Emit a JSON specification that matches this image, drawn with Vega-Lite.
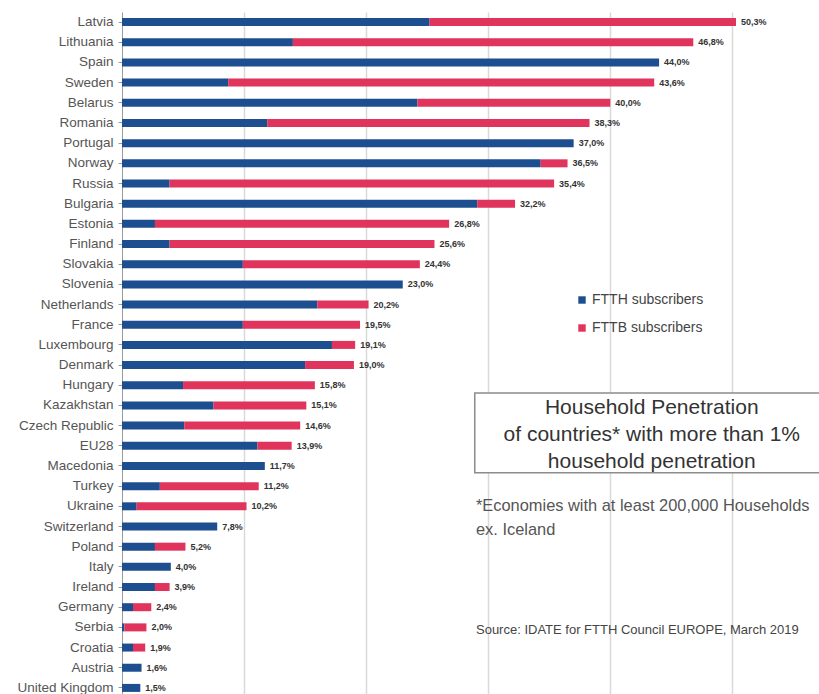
{
  "$schema": "https://vega.github.io/schema/vega-lite/v6.json",
  "width": 697,
  "height": 686,
  "autosize": {"type": "none"},
  "padding": {"left": 122, "top": 12, "right": 0, "bottom": 0},
  "background": "white",
  "config": {"view": {"stroke": null}, "font": "Liberation Sans"},
  "datasets": {
    "bars": [
      {"country": "Latvia", "type": "FTTH subscribers", "value": 25.2},
      {"country": "Latvia", "type": "FTTB subscribers", "value": 25.1},
      {"country": "Lithuania", "type": "FTTH subscribers", "value": 14.0},
      {"country": "Lithuania", "type": "FTTB subscribers", "value": 32.8},
      {"country": "Spain", "type": "FTTH subscribers", "value": 44.0},
      {"country": "Sweden", "type": "FTTH subscribers", "value": 8.7},
      {"country": "Sweden", "type": "FTTB subscribers", "value": 34.9},
      {"country": "Belarus", "type": "FTTH subscribers", "value": 24.2},
      {"country": "Belarus", "type": "FTTB subscribers", "value": 15.8},
      {"country": "Romania", "type": "FTTH subscribers", "value": 11.9},
      {"country": "Romania", "type": "FTTB subscribers", "value": 26.4},
      {"country": "Portugal", "type": "FTTH subscribers", "value": 37.0},
      {"country": "Norway", "type": "FTTH subscribers", "value": 34.3},
      {"country": "Norway", "type": "FTTB subscribers", "value": 2.2},
      {"country": "Russia", "type": "FTTH subscribers", "value": 3.9},
      {"country": "Russia", "type": "FTTB subscribers", "value": 31.5},
      {"country": "Bulgaria", "type": "FTTH subscribers", "value": 29.1},
      {"country": "Bulgaria", "type": "FTTB subscribers", "value": 3.1},
      {"country": "Estonia", "type": "FTTH subscribers", "value": 2.7},
      {"country": "Estonia", "type": "FTTB subscribers", "value": 24.1},
      {"country": "Finland", "type": "FTTH subscribers", "value": 3.9},
      {"country": "Finland", "type": "FTTB subscribers", "value": 21.7},
      {"country": "Slovakia", "type": "FTTH subscribers", "value": 9.9},
      {"country": "Slovakia", "type": "FTTB subscribers", "value": 14.5},
      {"country": "Slovenia", "type": "FTTH subscribers", "value": 23.0},
      {"country": "Netherlands", "type": "FTTH subscribers", "value": 16.0},
      {"country": "Netherlands", "type": "FTTB subscribers", "value": 4.2},
      {"country": "France", "type": "FTTH subscribers", "value": 9.9},
      {"country": "France", "type": "FTTB subscribers", "value": 9.6},
      {"country": "Luxembourg", "type": "FTTH subscribers", "value": 17.2},
      {"country": "Luxembourg", "type": "FTTB subscribers", "value": 1.9},
      {"country": "Denmark", "type": "FTTH subscribers", "value": 15.0},
      {"country": "Denmark", "type": "FTTB subscribers", "value": 4.0},
      {"country": "Hungary", "type": "FTTH subscribers", "value": 5.0},
      {"country": "Hungary", "type": "FTTB subscribers", "value": 10.8},
      {"country": "Kazakhstan", "type": "FTTH subscribers", "value": 7.5},
      {"country": "Kazakhstan", "type": "FTTB subscribers", "value": 7.6},
      {"country": "Czech Republic", "type": "FTTH subscribers", "value": 5.1},
      {"country": "Czech Republic", "type": "FTTB subscribers", "value": 9.5},
      {"country": "EU28", "type": "FTTH subscribers", "value": 11.1},
      {"country": "EU28", "type": "FTTB subscribers", "value": 2.8},
      {"country": "Macedonia", "type": "FTTH subscribers", "value": 11.7},
      {"country": "Turkey", "type": "FTTH subscribers", "value": 3.1},
      {"country": "Turkey", "type": "FTTB subscribers", "value": 8.1},
      {"country": "Ukraine", "type": "FTTH subscribers", "value": 1.2},
      {"country": "Ukraine", "type": "FTTB subscribers", "value": 9.0},
      {"country": "Switzerland", "type": "FTTH subscribers", "value": 7.8},
      {"country": "Poland", "type": "FTTH subscribers", "value": 2.7},
      {"country": "Poland", "type": "FTTB subscribers", "value": 2.5},
      {"country": "Italy", "type": "FTTH subscribers", "value": 4.0},
      {"country": "Ireland", "type": "FTTH subscribers", "value": 2.7},
      {"country": "Ireland", "type": "FTTB subscribers", "value": 1.2},
      {"country": "Germany", "type": "FTTH subscribers", "value": 0.9},
      {"country": "Germany", "type": "FTTB subscribers", "value": 1.5},
      {"country": "Serbia", "type": "FTTH subscribers", "value": 0.2},
      {"country": "Serbia", "type": "FTTB subscribers", "value": 1.8},
      {"country": "Croatia", "type": "FTTH subscribers", "value": 0.9},
      {"country": "Croatia", "type": "FTTB subscribers", "value": 1.0},
      {"country": "Austria", "type": "FTTH subscribers", "value": 1.6},
      {"country": "United Kingdom", "type": "FTTH subscribers", "value": 1.5}
    ],
    "totals": [
      {"country": "Latvia", "total": 50.3, "label": "50,3%"},
      {"country": "Lithuania", "total": 46.8, "label": "46,8%"},
      {"country": "Spain", "total": 44.0, "label": "44,0%"},
      {"country": "Sweden", "total": 43.6, "label": "43,6%"},
      {"country": "Belarus", "total": 40.0, "label": "40,0%"},
      {"country": "Romania", "total": 38.3, "label": "38,3%"},
      {"country": "Portugal", "total": 37.0, "label": "37,0%"},
      {"country": "Norway", "total": 36.5, "label": "36,5%"},
      {"country": "Russia", "total": 35.4, "label": "35,4%"},
      {"country": "Bulgaria", "total": 32.2, "label": "32,2%"},
      {"country": "Estonia", "total": 26.8, "label": "26,8%"},
      {"country": "Finland", "total": 25.6, "label": "25,6%"},
      {"country": "Slovakia", "total": 24.4, "label": "24,4%"},
      {"country": "Slovenia", "total": 23.0, "label": "23,0%"},
      {"country": "Netherlands", "total": 20.2, "label": "20,2%"},
      {"country": "France", "total": 19.5, "label": "19,5%"},
      {"country": "Luxembourg", "total": 19.1, "label": "19,1%"},
      {"country": "Denmark", "total": 19.0, "label": "19,0%"},
      {"country": "Hungary", "total": 15.8, "label": "15,8%"},
      {"country": "Kazakhstan", "total": 15.1, "label": "15,1%"},
      {"country": "Czech Republic", "total": 14.6, "label": "14,6%"},
      {"country": "EU28", "total": 13.9, "label": "13,9%"},
      {"country": "Macedonia", "total": 11.7, "label": "11,7%"},
      {"country": "Turkey", "total": 11.2, "label": "11,2%"},
      {"country": "Ukraine", "total": 10.2, "label": "10,2%"},
      {"country": "Switzerland", "total": 7.8, "label": "7,8%"},
      {"country": "Poland", "total": 5.2, "label": "5,2%"},
      {"country": "Italy", "total": 4.0, "label": "4,0%"},
      {"country": "Ireland", "total": 3.9, "label": "3,9%"},
      {"country": "Germany", "total": 2.4, "label": "2,4%"},
      {"country": "Serbia", "total": 2.0, "label": "2,0%"},
      {"country": "Croatia", "total": 1.9, "label": "1,9%"},
      {"country": "Austria", "total": 1.6, "label": "1,6%"},
      {"country": "United Kingdom", "total": 1.5, "label": "1,5%"}
    ],
    "titleLines": [
      {"x": 43.4, "r": 19.62, "text": "Household Penetration"},
      {"x": 43.4, "r": 20.96, "text": "of countries* with more than 1%"},
      {"x": 43.4, "r": 22.3, "text": "household penetration"}
    ],
    "notes": [
      {"x": 29.0, "r": 24.5, "text": "*Economies with at least 200,000 Households"},
      {"x": 29.0, "r": 25.68, "text": "ex. Iceland"}
    ],
    "source": [
      {"x": 29.0, "r": 30.62, "text": "Source: IDATE for FTTH Council EUROPE, March 2019"}
    ],
    "box": [
      {"x": 28.9, "x2": 60, "r": 18.88, "r2": 22.84}
    ]
  },
  "layer": [
    {
      "layer": [
        {
          "data": {"name": "bars"},
          "mark": {"type": "bar", "size": 8},
          "encoding": {
            "y": {
              "field": "country",
              "type": "nominal",
              "sort": ["Latvia","Lithuania","Spain","Sweden","Belarus","Romania","Portugal","Norway","Russia","Bulgaria","Estonia","Finland","Slovakia","Slovenia","Netherlands","France","Luxembourg","Denmark","Hungary","Kazakhstan","Czech Republic","EU28","Macedonia","Turkey","Ukraine","Switzerland","Poland","Italy","Ireland","Germany","Serbia","Croatia","Austria","United Kingdom"],
              "scale": {"paddingInner": 0, "paddingOuter": 0},
              "axis": {
                "title": null,
                "domainColor": "#9a9a9a",
                "domainWidth": 1,
                "tickColor": "#9a9a9a",
                "tickSize": 4,
                "labelPadding": 5,
                "labelFontSize": 13.5,
                "labelColor": "#555555",
                "labelFont": "Liberation Sans"
              }
            },
            "x": {
              "field": "value",
              "type": "quantitative",
              "stack": "zero",
              "scale": {"domain": [0, 57.1], "nice": false},
              "axis": {
                "title": null,
                "labels": false,
                "ticks": false,
                "domain": false,
                "grid": true,
                "values": [10, 20, 30, 40, 50],
                "gridColor": "#d9d9d9",
                "gridWidth": 1.5
              }
            },
            "color": {
              "field": "type",
              "type": "nominal",
              "scale": {"domain": ["FTTH subscribers", "FTTB subscribers"], "range": ["#1d4e8f", "#e0345c"]},
              "legend": {
                "title": null,
                "orient": "none",
                "legendX": 453,
                "legendY": 281,
                "symbolType": "square",
                "symbolSize": 55,
                "symbolStrokeWidth": 0,
                "labelFontSize": 14,
                "labelColor": "#444444",
                "labelFont": "Liberation Sans",
                "labelOffset": 3,
                "rowPadding": 14
              }
            },
            "order": {"field": "type", "sort": "descending"}
          }
        },
        {
          "data": {"name": "totals"},
          "mark": {"type": "text", "align": "left", "baseline": "middle", "dx": 5, "fontSize": 9, "fontWeight": "bold", "color": "#333333", "font": "Liberation Sans"},
          "encoding": {
            "y": {"field": "country", "type": "nominal", "sort": ["Latvia","Lithuania","Spain","Sweden","Belarus","Romania","Portugal","Norway","Russia","Bulgaria","Estonia","Finland","Slovakia","Slovenia","Netherlands","France","Luxembourg","Denmark","Hungary","Kazakhstan","Czech Republic","EU28","Macedonia","Turkey","Ukraine","Switzerland","Poland","Italy","Ireland","Germany","Serbia","Croatia","Austria","United Kingdom"]},
            "x": {"field": "total", "type": "quantitative"},
            "text": {"field": "label"}
          }
        }
      ]
    },
    {
      "layer": [
        {
          "data": {"name": "box"},
          "mark": {"type": "rect", "fill": "white", "stroke": "#8c8c8c", "strokeWidth": 1.5},
          "encoding": {
            "x": {"field": "x", "type": "quantitative"},
            "x2": {"field": "x2"},
            "y": {"field": "r", "type": "quantitative", "scale": {"domain": [0, 34], "reverse": true, "nice": false, "zero": false}, "axis": null},
            "y2": {"field": "r2"}
          }
        },
        {
          "data": {"name": "titleLines"},
          "mark": {"type": "text", "align": "center", "baseline": "middle", "fontSize": 21, "color": "#333333", "font": "Liberation Sans"},
          "encoding": {
            "x": {"field": "x", "type": "quantitative"},
            "y": {"field": "r", "type": "quantitative"},
            "text": {"field": "text"}
          }
        },
        {
          "data": {"name": "notes"},
          "mark": {"type": "text", "align": "left", "baseline": "middle", "fontSize": 16.4, "color": "#555555", "font": "Liberation Sans"},
          "encoding": {
            "x": {"field": "x", "type": "quantitative"},
            "y": {"field": "r", "type": "quantitative"},
            "text": {"field": "text"}
          }
        },
        {
          "data": {"name": "source"},
          "mark": {"type": "text", "align": "left", "baseline": "middle", "fontSize": 13, "color": "#444444", "font": "Liberation Sans"},
          "encoding": {
            "x": {"field": "x", "type": "quantitative"},
            "y": {"field": "r", "type": "quantitative"},
            "text": {"field": "text"}
          }
        }
      ]
    }
  ],
  "resolve": {"scale": {"y": "independent"}}
}
